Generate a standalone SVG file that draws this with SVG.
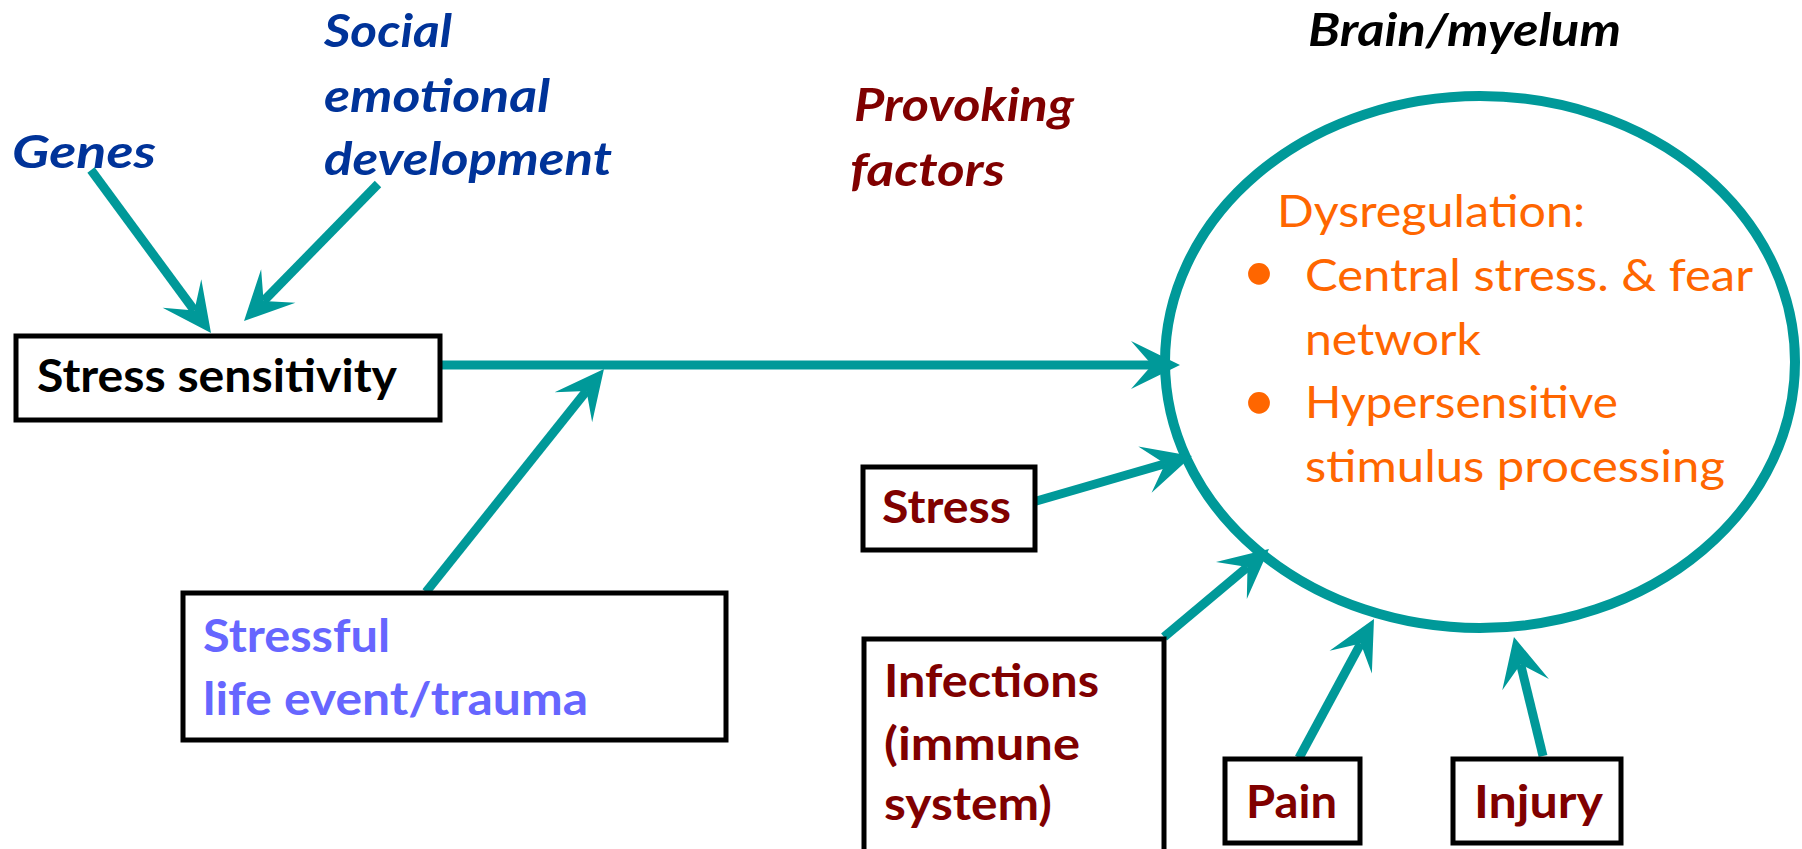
<svg xmlns="http://www.w3.org/2000/svg" width="1802" height="849" viewBox="0 0 1802 849">
<style>
.box{fill:#fff;stroke:#000;stroke-width:5}
.con{fill:none;stroke:#009999;stroke-width:9}
.t{font-family:Lato,"Open Sans","DejaVu Sans",sans-serif;font-size:45px;font-weight:bold}
.it{font-style:italic}
.blue{fill:#003399}
.red{fill:#800000}
.org{fill:#FF6600;font-weight:normal;font-size:44px}
.bul{fill:#FF6600;font-size:50px}
.lav{fill:#6666FF}
</style>
<defs>
<marker id="ah" viewBox="-25 -26 56 52" refX="0" refY="0" markerWidth="56" markerHeight="52" orient="auto" markerUnits="userSpaceOnUse">
<path d="M28,0 L-21,-24 L0,0 L-21,24 Z" fill="#009999"/>
</marker>
</defs>
<rect width="1802" height="849" fill="#fff"/>

<g id="labels">
<text class="t it blue" x="12" y="168" textLength="144" lengthAdjust="spacingAndGlyphs">Genes</text>
<text class="t it blue" x="324" y="47" textLength="128" lengthAdjust="spacingAndGlyphs">Social</text>
<text class="t it blue" x="324" y="112" textLength="226" lengthAdjust="spacingAndGlyphs">emotional</text>
<text class="t it blue" x="324" y="175" textLength="288" lengthAdjust="spacingAndGlyphs">development</text>
<text class="t it red" x="854" y="121" textLength="220" lengthAdjust="spacingAndGlyphs">Provoking</text>
<text class="t it red" x="850" y="186" textLength="155" lengthAdjust="spacingAndGlyphs">factors</text>
<text class="t it" x="1308" y="46" fill="#000" textLength="313" lengthAdjust="spacingAndGlyphs">Brain/myelum</text>
</g>

<g id="brain">
<ellipse cx="1480" cy="362" rx="315" ry="266" fill="none" stroke="#009999" stroke-width="10"/>
<text class="t org" x="1277" y="227" textLength="308" lengthAdjust="spacingAndGlyphs">Dysregulation:</text>
<text class="t bul" x="1259" y="289" text-anchor="middle">•</text>
<text class="t org" x="1305" y="291" textLength="448" lengthAdjust="spacingAndGlyphs">Central stress. &amp; fear</text>
<text class="t org" x="1305" y="355" textLength="176" lengthAdjust="spacingAndGlyphs">network</text>
<text class="t bul" x="1259" y="418" text-anchor="middle">•</text>
<text class="t org" x="1305" y="418" textLength="313" lengthAdjust="spacingAndGlyphs">Hypersensitive</text>
<text class="t org" x="1305" y="482" textLength="420" lengthAdjust="spacingAndGlyphs">stimulus processing</text>
</g>

<g id="connectors">
<path class="con" d="M91,170 L194.4,310.5" marker-end="url(#ah)"/>
<path class="con" d="M378,184 L263.6,301" marker-end="url(#ah)"/>
<path class="con" d="M441,365 L1152,365" marker-end="url(#ah)"/>
<path class="con" d="M426,592 L586.5,390.9" marker-end="url(#ah)"/>
<path class="con" d="M1033,502 L1165.1,463.8" marker-end="url(#ah)"/>
<path class="con" d="M1164,637 L1247.5,567" marker-end="url(#ah)"/>
<path class="con" d="M1299,758 L1360.7,643.6" marker-end="url(#ah)"/>
<path class="con" d="M1543,756 L1520.6,664.2" marker-end="url(#ah)"/>
</g>

<g id="stress-sensitivity">
<rect class="box" x="16" y="336" width="424" height="84"/>
<text class="t" x="37" y="392" fill="#000" textLength="360" lengthAdjust="spacingAndGlyphs">Stress sensitivity</text>
</g>

<g id="stressful-life-event">
<rect class="box" x="183" y="593" width="543" height="147"/>
<text class="t lav" x="203" y="652" textLength="187" lengthAdjust="spacingAndGlyphs">Stressful</text>
<text class="t lav" x="203" y="715" textLength="385" lengthAdjust="spacingAndGlyphs">life event/trauma</text>
</g>

<g id="stress">
<rect class="box" x="863" y="467" width="172" height="83"/>
<text class="t red" x="882" y="523" textLength="129" lengthAdjust="spacingAndGlyphs">Stress</text>
</g>

<g id="infections">
<rect class="box" x="864" y="639" width="300" height="230"/>
<text class="t red" x="884" y="697" textLength="215" lengthAdjust="spacingAndGlyphs">Infections</text>
<text class="t red" x="884" y="760" textLength="196" lengthAdjust="spacingAndGlyphs">(immune</text>
<text class="t red" x="884" y="820" textLength="168" lengthAdjust="spacingAndGlyphs">system)</text>
</g>

<g id="pain">
<rect class="box" x="1225" y="759" width="135" height="84"/>
<text class="t red" x="1246" y="818" textLength="91" lengthAdjust="spacingAndGlyphs">Pain</text>
</g>

<g id="injury">
<rect class="box" x="1453" y="759" width="168" height="84"/>
<text class="t red" x="1474" y="818" textLength="129" lengthAdjust="spacingAndGlyphs">Injury</text>
</g>
</svg>
